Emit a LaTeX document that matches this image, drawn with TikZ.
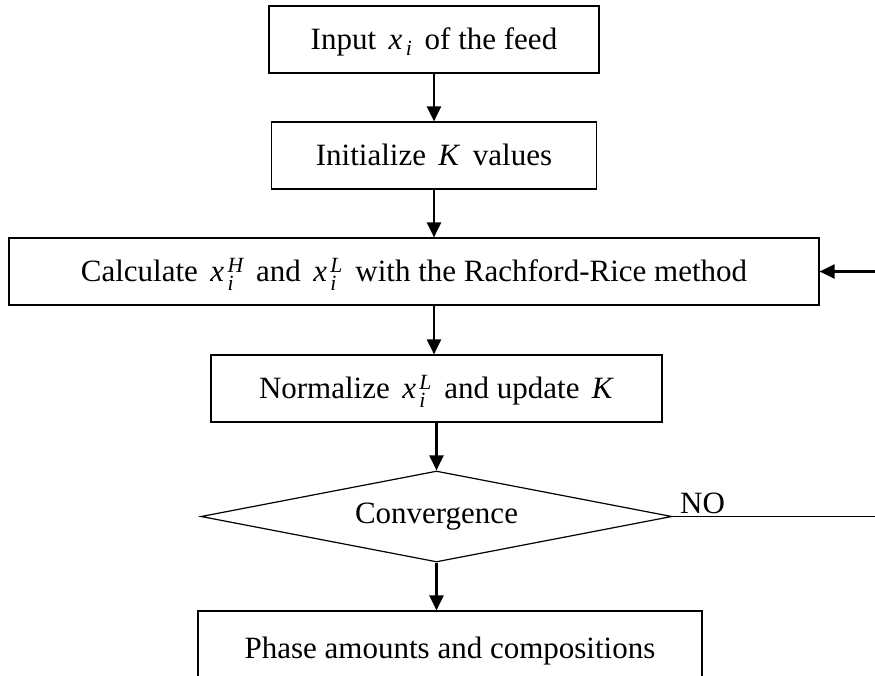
\documentclass[tikz,border=0pt]{standalone}
\usepackage{amsmath}
\usepackage{fontspec}
\setmainfont{Liberation Serif}
\usetikzlibrary{shapes.geometric,arrows.meta}
\newcommand{\xvar}[1]{$\textit{x}_{\,\textit{i}}^{\,\textit{#1}}$}
\newcommand{\gap}{\hspace{.4em}}
\begin{document}
\begin{tikzpicture}[x=1pt,y=-1pt,
  txt/.style={font=\fontsize{31}{37}\selectfont},
  box/.style={txt,draw,line width=1.2pt,rectangle,minimum height=67pt,inner sep=0pt,text height=20pt,text depth=0pt},
  dec/.style={txt,draw,line width=1.2pt,diamond,shape aspect=5.18,inner sep=0pt,minimum width=471pt,minimum height=91pt},
  arr/.style={line width=2.2pt,-{Triangle[length=15pt,width=14pt]}},
  plain/.style={line width=1.5pt}]
\clip (0,0) rectangle (875,675);
\node[box,minimum width=330pt] (input) at (434,39.5) {Input\gap$\textit{x}_{\,\textit{i}}$\gap of the feed};
\node[box,minimum width=325pt] (init) at (434,155.5) {Initialize\gap\textit{K}\gap values};
\node[box,minimum width=810pt] (calc) at (414,271.5) {Calculate\gap\xvar{H}\gap and\gap\xvar{L}\gap with the Rachford-Rice method};
\node[box,minimum width=451pt] (norm) at (436.5,388.5) {Normalize\gap\xvar{L}\gap and update\gap\textit{K}};
\node[dec] (conv) at (436.5,516.5) {Convergence};
\node[box,minimum width=504pt,minimum height=74pt] (phase) at (450,648) {Phase amounts and compositions};
\node[txt,anchor=base west,inner sep=0pt] (no) at (680,513) {NO};
\coordinate (r1) at (875,516.5);
\coordinate (r2) at (875,271.5);
\draw[arr] (input.south) -- (init.north);
\draw[arr] (init.south) -- (init.south |- calc.north);
\draw[arr] (init.south |- calc.south) -- (init.south |- norm.north);
\draw[arr] (norm.south) -- (conv.north);
\draw[arr] (conv.south) -- (conv.south |- phase.north);
\draw[plain] (conv.east) -- (r1);
\draw[arr] (r2) -- (calc.east);
\end{tikzpicture}
\end{document}
